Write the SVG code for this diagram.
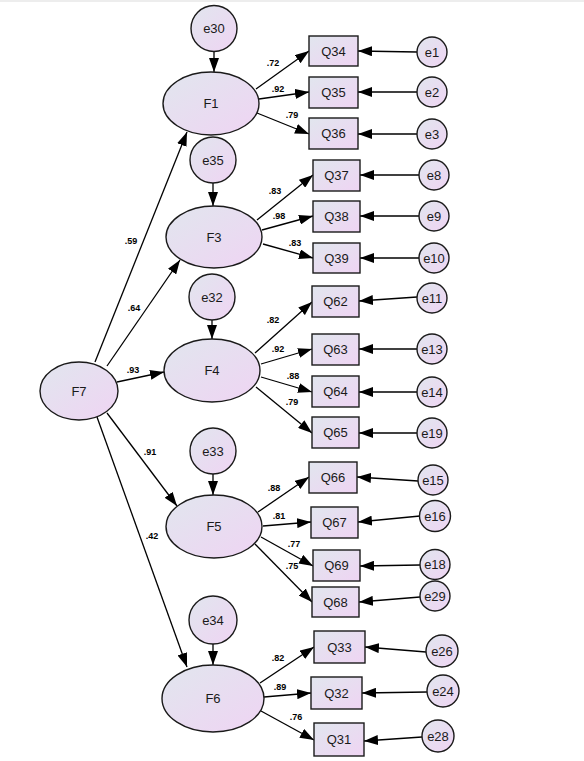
<svg xmlns="http://www.w3.org/2000/svg" width="584" height="761" viewBox="0 0 584 761">
<defs>
<linearGradient id="g" x1="0" y1="0" x2="1" y2="1">
<stop offset="0" stop-color="#e1e6ee"/>
<stop offset="1" stop-color="#efd4f3"/>
</linearGradient>
<marker id="ah" markerWidth="14" markerHeight="10" refX="14" refY="5" orient="auto" markerUnits="userSpaceOnUse">
<path d="M0,0 L14,5 L0,10 z" fill="#000"/>
</marker>
</defs>
<style>
.n{fill:url(#g);stroke:#1a1a1a;stroke-width:1.4}
.t{font-family:"Liberation Sans",Arial,sans-serif;font-size:13px;fill:#1a1a1a;text-anchor:middle}
.l{font-family:"Liberation Sans",Arial,sans-serif;font-size:9px;font-weight:bold;fill:#000;text-anchor:middle}
#connectors line{stroke:#000;stroke-width:1.3;marker-end:url(#ah)}
</style>
<rect x="0" y="0" width="584" height="761" fill="#fff"/>
<rect x="0" y="0" width="584" height="2" fill="#ededed"/>

<g id="connectors">
<line x1="214" y1="51.5" x2="214" y2="72"/>
<line x1="213" y1="183" x2="213" y2="206"/>
<line x1="212" y1="320" x2="212" y2="339"/>
<line x1="213" y1="474" x2="213" y2="495"/>
<line x1="213" y1="644" x2="213" y2="665"/>

<line x1="417" y1="52" x2="358" y2="51"/>
<line x1="417" y1="92" x2="358" y2="92"/>
<line x1="417" y1="134" x2="358" y2="134"/>
<line x1="419" y1="175" x2="360" y2="175"/>
<line x1="419" y1="216" x2="360" y2="216"/>
<line x1="419" y1="258" x2="360" y2="258"/>
<line x1="417" y1="297" x2="359" y2="301"/>
<line x1="417" y1="349" x2="359" y2="349"/>
<line x1="417" y1="392" x2="359" y2="392"/>
<line x1="417" y1="433" x2="359" y2="433"/>
<line x1="418" y1="481" x2="357" y2="477"/>
<line x1="420" y1="516" x2="358" y2="522"/>
<line x1="420" y1="565" x2="360" y2="566"/>
<line x1="420" y1="597" x2="359" y2="602"/>
<line x1="426" y1="652" x2="365" y2="647"/>
<line x1="427" y1="692" x2="362" y2="693"/>
<line x1="422" y1="737" x2="364" y2="741"/>

<line x1="256" y1="89" x2="309" y2="51"/>
<line x1="259" y1="99" x2="309" y2="92"/>
<line x1="257" y1="113" x2="309" y2="134"/>
<line x1="257" y1="220" x2="313" y2="175"/>
<line x1="262" y1="230" x2="313" y2="216"/>
<line x1="263" y1="244" x2="313" y2="258"/>
<line x1="255" y1="353" x2="312" y2="302"/>
<line x1="261" y1="364" x2="312" y2="349"/>
<line x1="261" y1="377" x2="312" y2="392"/>
<line x1="256" y1="387" x2="312" y2="433"/>
<line x1="258" y1="512" x2="309" y2="477"/>
<line x1="263" y1="526" x2="311" y2="522"/>
<line x1="261" y1="537" x2="313" y2="566"/>
<line x1="255" y1="544" x2="312" y2="602"/>
<line x1="260" y1="683" x2="314" y2="647"/>
<line x1="264" y1="697" x2="311" y2="693"/>
<line x1="261" y1="711" x2="314" y2="740"/>

<line x1="95" y1="362" x2="187" y2="132"/>
<line x1="107" y1="366" x2="180" y2="260"/>
<line x1="117" y1="382" x2="164" y2="372"/>
<line x1="107" y1="413" x2="177" y2="506"/>
<line x1="97" y1="417" x2="187" y2="667"/>
</g>

<g id="labels">
<text class="l" x="273" y="66">.72</text>
<text class="l" x="278" y="92">.92</text>
<text class="l" x="292" y="118">.79</text>
<text class="l" x="275" y="194">.83</text>
<text class="l" x="279" y="219">.98</text>
<text class="l" x="295" y="246">.83</text>
<text class="l" x="273" y="323">.82</text>
<text class="l" x="278" y="352">.92</text>
<text class="l" x="293" y="379">.88</text>
<text class="l" x="292" y="405">.79</text>
<text class="l" x="274" y="491">.88</text>
<text class="l" x="279" y="519">.81</text>
<text class="l" x="294" y="547">.77</text>
<text class="l" x="292" y="569">.75</text>
<text class="l" x="278" y="661">.82</text>
<text class="l" x="280" y="690">.89</text>
<text class="l" x="296" y="720">.76</text>
<text class="l" x="131" y="244">.59</text>
<text class="l" x="134" y="311">.64</text>
<text class="l" x="133" y="373">.93</text>
<text class="l" x="150" y="455">.91</text>
<text class="l" x="152" y="539">.42</text>
</g>

<g id="F1"><ellipse class="n" cx="211" cy="103.5" rx="48" ry="31.5"/><text class="t" x="211" y="108">F1</text></g>
<g id="F3"><ellipse class="n" cx="214" cy="237" rx="48" ry="31"/><text class="t" x="214" y="241.5">F3</text></g>
<g id="F4"><ellipse class="n" cx="212" cy="370.5" rx="48" ry="31.5"/><text class="t" x="212" y="375">F4</text></g>
<g id="F5"><ellipse class="n" cx="214" cy="526.5" rx="48" ry="31.5"/><text class="t" x="214" y="531">F5</text></g>
<g id="F6"><ellipse class="n" cx="213" cy="698.5" rx="51" ry="33.5"/><text class="t" x="213" y="703">F6</text></g>
<g id="F7"><ellipse class="n" cx="79" cy="391" rx="39" ry="29"/><text class="t" x="79" y="395.5">F7</text></g>

<g id="e30"><circle class="n" cx="214" cy="28.5" r="23"/><text class="t" x="214" y="33">e30</text></g>
<g id="e35"><circle class="n" cx="213" cy="160" r="23"/><text class="t" x="213" y="164.5">e35</text></g>
<g id="e32"><circle class="n" cx="212" cy="297" r="23"/><text class="t" x="212" y="301.5">e32</text></g>
<g id="e33"><circle class="n" cx="213" cy="451" r="23"/><text class="t" x="213" y="455.5">e33</text></g>
<g id="e34"><circle class="n" cx="213" cy="620" r="24"/><text class="t" x="213" y="624.5">e34</text></g>

<g id="Q34"><rect class="n" x="309" y="36" width="49" height="30"/><text class="t" x="333.5" y="55.5">Q34</text></g>
<g id="Q35"><rect class="n" x="309" y="77" width="49" height="31"/><text class="t" x="333.5" y="97">Q35</text></g>
<g id="Q36"><rect class="n" x="309" y="118" width="49" height="31"/><text class="t" x="333.5" y="138">Q36</text></g>
<g id="Q37"><rect class="n" x="313" y="160" width="47" height="31"/><text class="t" x="336.5" y="180">Q37</text></g>
<g id="Q38"><rect class="n" x="313" y="201" width="47" height="31"/><text class="t" x="336.5" y="221">Q38</text></g>
<g id="Q39"><rect class="n" x="313" y="243" width="47" height="30"/><text class="t" x="336.5" y="262.5">Q39</text></g>
<g id="Q62"><rect class="n" x="312" y="286" width="47" height="31"/><text class="t" x="335.5" y="306">Q62</text></g>
<g id="Q63"><rect class="n" x="312" y="334" width="47" height="31"/><text class="t" x="335.5" y="354">Q63</text></g>
<g id="Q64"><rect class="n" x="312" y="376" width="47" height="31"/><text class="t" x="335.5" y="396">Q64</text></g>
<g id="Q65"><rect class="n" x="312" y="417" width="47" height="31"/><text class="t" x="335.5" y="437">Q65</text></g>
<g id="Q66"><rect class="n" x="309" y="462" width="48" height="31"/><text class="t" x="333" y="482">Q66</text></g>
<g id="Q67"><rect class="n" x="311" y="507" width="47" height="31"/><text class="t" x="334.5" y="527">Q67</text></g>
<g id="Q69"><rect class="n" x="313" y="550" width="47" height="31"/><text class="t" x="336.5" y="570">Q69</text></g>
<g id="Q68"><rect class="n" x="312" y="587" width="47" height="30"/><text class="t" x="335.5" y="606.5">Q68</text></g>
<g id="Q33"><rect class="n" x="314" y="631" width="51" height="32"/><text class="t" x="339.5" y="651.5">Q33</text></g>
<g id="Q32"><rect class="n" x="311" y="677" width="51" height="32"/><text class="t" x="336.5" y="697.5">Q32</text></g>
<g id="Q31"><rect class="n" x="314" y="723" width="50" height="33"/><text class="t" x="339" y="744">Q31</text></g>

<g id="e1"><circle class="n" cx="432" cy="52" r="15"/><text class="t" x="432" y="56.5">e1</text></g>
<g id="e2"><circle class="n" cx="432" cy="92" r="15"/><text class="t" x="432" y="96.5">e2</text></g>
<g id="e3"><circle class="n" cx="432" cy="134" r="15"/><text class="t" x="432" y="138.5">e3</text></g>
<g id="e8"><circle class="n" cx="434" cy="175" r="15"/><text class="t" x="434" y="179.5">e8</text></g>
<g id="e9"><circle class="n" cx="434" cy="216" r="15"/><text class="t" x="434" y="220.5">e9</text></g>
<g id="e10"><circle class="n" cx="434" cy="258" r="15"/><text class="t" x="434" y="262.5">e10</text></g>
<g id="e11"><circle class="n" cx="432" cy="298" r="15"/><text class="t" x="432" y="302.5">e11</text></g>
<g id="e13"><circle class="n" cx="432" cy="349" r="15"/><text class="t" x="432" y="353.5">e13</text></g>
<g id="e14"><circle class="n" cx="432" cy="392" r="15"/><text class="t" x="432" y="396.5">e14</text></g>
<g id="e19"><circle class="n" cx="432" cy="433" r="15"/><text class="t" x="432" y="437.5">e19</text></g>
<g id="e15"><circle class="n" cx="433" cy="480" r="15"/><text class="t" x="433" y="484.5">e15</text></g>
<g id="e16"><circle class="n" cx="435" cy="516" r="15.5"/><text class="t" x="435" y="520.5">e16</text></g>
<g id="e18"><circle class="n" cx="435" cy="564.5" r="15"/><text class="t" x="435" y="569">e18</text></g>
<g id="e29"><circle class="n" cx="435" cy="596" r="15"/><text class="t" x="435" y="600.5">e29</text></g>
<g id="e26"><circle class="n" cx="442" cy="651" r="16"/><text class="t" x="442" y="655.5">e26</text></g>
<g id="e24"><circle class="n" cx="443" cy="691" r="16"/><text class="t" x="443" y="695.5">e24</text></g>
<g id="e28"><circle class="n" cx="438" cy="736" r="16"/><text class="t" x="438" y="740.5">e28</text></g>
</svg>
